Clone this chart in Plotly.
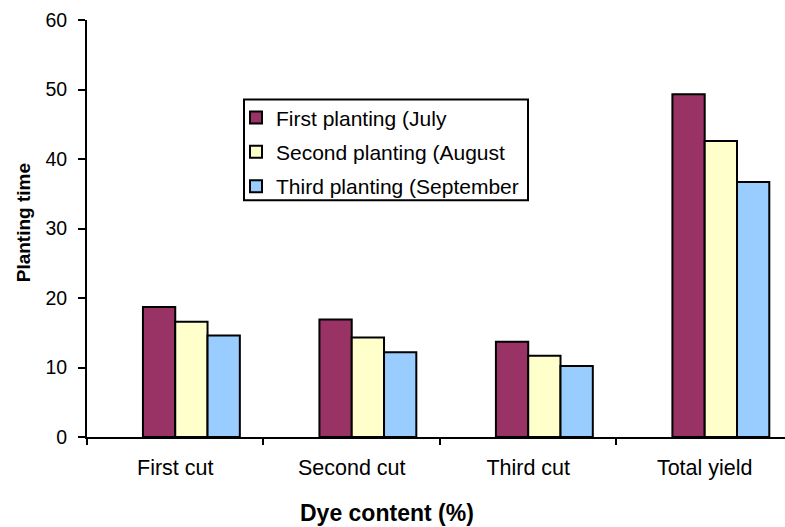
import plotly.graph_objects as go

categories = ["First cut", "Second cut", "Third cut", "Total yield"]
series_names = ["First planting (July", "Second planting (August", "Third planting (September"]
first_planting = [18.7, 16.9, 13.7, 49.3]
second_planting = [16.6, 14.3, 11.7, 42.6]
third_planting = [14.6, 12.2, 10.2, 36.7]
colors = ["#993366", "#FFFFCC", "#99CCFF"]
y_ticks = [0, 10, 20, 30, 40, 50, 60]

FONT = "Liberation Sans, Arial, sans-serif"
bar_w = 0.183
offsets = [-bar_w, 0.0, bar_w]

# plot area in pixels
L, R, T, B = 87, 785, 19.5, 437
W, H = 785, 527
plot_w = R - L
plot_h = B - T


def px_x(x):
    return (x - L) / plot_w


def px_y(y):
    return (B - y) / plot_h


fig = go.Figure()
for name, vals, col, off in zip(series_names,
                                [first_planting, second_planting, third_planting],
                                colors, offsets):
    fig.add_trace(go.Bar(
        x=categories, y=vals, name=name,
        marker=dict(color=col, line=dict(color="black", width=2)),
        width=bar_w, offset=off,
        legendgroup=name,
    ))

fig.update_layout(
    width=W, height=H,
    margin=dict(l=L, r=W - R, t=T, b=H - B),
    paper_bgcolor="white", plot_bgcolor="white",
    barmode="overlay",
    font=dict(family=FONT, size=19, color="black"),
    showlegend=True,
    legend=dict(
        x=px_x(236), y=px_y(97), xanchor="left", yanchor="top",
        bgcolor="rgba(0,0,0,0)", borderwidth=0,
        font=dict(family=FONT, size=21, color="black"),
        traceorder="grouped", tracegroupgap=4,
        itemwidth=30,
    ),
    xaxis=dict(
        type="category", range=[-0.5, 3.455],
        showline=True, linecolor="black", linewidth=2,
        ticks="outside", ticklen=6, tickwidth=2, tickcolor="black",
        tickson="boundaries",
        showgrid=False, zeroline=False,
        tickfont=dict(family=FONT, size=21.5, color="black"),
        ticklabelstandoff=10,
    ),
    yaxis=dict(
        range=[0, 60], tickvals=y_ticks,
        showline=True, linecolor="black", linewidth=2,
        ticks="outside", ticklen=7, tickwidth=2, tickcolor="black",
        showgrid=False, zeroline=False,
        tickfont=dict(family=FONT, size=19.5, color="black"),
        ticklabelstandoff=7,
    ),
    shapes=[
        # legend frame
        dict(type="rect", xref="paper", yref="paper",
             x0=px_x(244), x1=px_x(528), y0=px_y(200), y1=px_y(99),
             line=dict(color="black", width=2), fillcolor="white", layer="below"),
    ],
    annotations=[
        dict(text="<b>Planting time</b>", x=px_x(23), y=px_y(223),
             xref="paper", yref="paper", showarrow=False, textangle=-90,
             xanchor="center", yanchor="middle",
             font=dict(family=FONT, size=19, color="black")),
        dict(text="<b>Dye content (%)</b>", x=px_x(387), y=px_y(513),
             xref="paper", yref="paper", showarrow=False,
             xanchor="center", yanchor="middle",
             font=dict(family=FONT, size=23, color="black")),
    ],
)

fig.write_html("out.html")
